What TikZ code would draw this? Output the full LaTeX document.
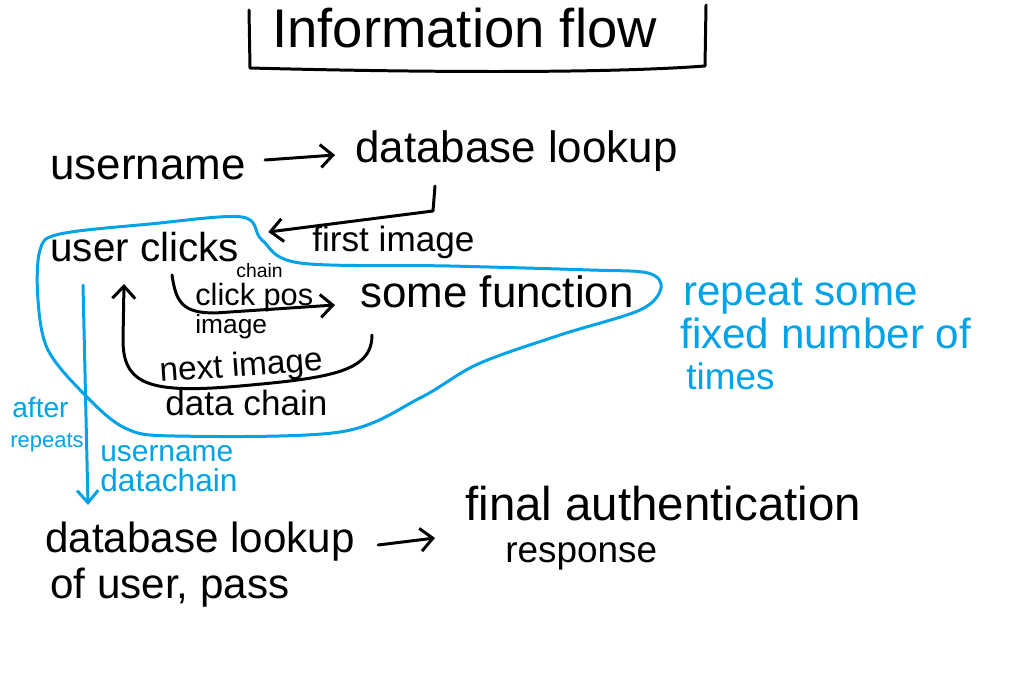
\documentclass[tikz,border=0pt]{standalone}
\usepackage{fontspec}
\setmainfont{Liberation Sans}
\usetikzlibrary{arrows.meta,calc}
\definecolor{tq}{RGB}{0,162,232}
\tikzset{
  txt/.style={inner sep=0pt, anchor=base west, font=\fontsize{#1}{#1}\selectfont},
  btxt/.style={txt=#1, text=tq},
  ink/.style={line width=1.7pt, line cap=round, line join=round},
  arr/.style={ink, -{Straight Barb[length=7pt,width=13pt]}},
  bline/.style={ink, draw=tq},
  barr/.style={bline, -{Straight Barb[length=7pt,width=12pt]}},
}
\begin{document}
\begin{tikzpicture}[x=0.02cm,y=-0.02cm]
\useasboundingbox[fill=white] (0,0) rectangle (1030,692);

% title
\node[txt=31] (title) at (272,48) {Information flow};
\draw[ink] (249,10) -- (250,68) .. controls (400,72) and (600,74) .. (705,66) -- (706,5);

% black texts
\node[txt=25] (un) at (50,180) {username};
\node[txt=25] (db1) at (355,163) {database lookup};
\node[txt=23] (uc) at (50,262) {user clicks};
\node[txt=20] (fi) at (312,252) {first image};
\node[txt=25] (sf) at (360,307) {some function};
\node[txt=11] (ch) at (236,277) {chain};
\node[txt=17.5] (cp) at (195,305) {click pos};
\node[txt=15] (im) at (195,333) {image};
\node[txt=19, rotate=4] (ni) at (160,382) {next image};
\node[txt=20] (dc) at (165,415) {data chain};
\node[txt=24] (db2) at (45,552) {database lookup};
\node[txt=24] (op) at (50,598) {of user, pass};
\node[txt=27] (fa) at (465,520) {final authentication};
\node[txt=21] (rs) at (505,562) {response};

% blue texts
\node[btxt=16] (af) at (12,417) {after};
\node[btxt=12.5] (rp) at (10,447) {repeats};
\node[btxt=17] (bu) at (100,461) {username};
\node[btxt=18] (bd) at (100,491) {datachain};
\node[btxt=24] (r1) at (683,305) {repeat some};
\node[btxt=24] (r2) at (680,348) {fixed number of};
\node[btxt=21] (r3) at (686,389) {times};

% blue loop
\draw[bline] plot[smooth cycle, tension=0.55] coordinates {
  (242,217) (150,224) (60,234) (40,250) (38,300) (48,350)
  (85,395) (125,428) (175,436) (340,432) (420,398) (478,364)
  (560,335) (640,310) (661,288) (648,273) (590,270) (450,266)
  (300,263) (262,240)};

% black connectors
\draw[arr] ($(un.base east)+(19,-20)$) -- ($(db1.base west)+(-20,-8)$);
\draw[arr] ($(db1.base west)+(80,23)$) -- (433,211) -- ($(uc.base east)+(29,-30)$);
\draw[arr] ($(uc.base west)+(122,13)$) .. controls (176,302) and (182,313) .. (215,313)
  -- ($(sf.base west)+(-25,-2)$);
\draw[arr] ($(sf.base west)+(12,28)$) .. controls (372,372) and (330,378) .. (240,386)
  .. controls (150,394) and (123,385) .. (123,340) -- ($(uc.base west)+(74,22)$);
\draw[arr] ($(db2.base east)+(23,-7)$) -- ($(fa.base west)+(-30,18)$);

% blue connector
\draw[barr] ($(uc.base west)+(33,23)$) -- ($(db2.base west)+(43,-47)$);
\end{tikzpicture}
\end{document}
